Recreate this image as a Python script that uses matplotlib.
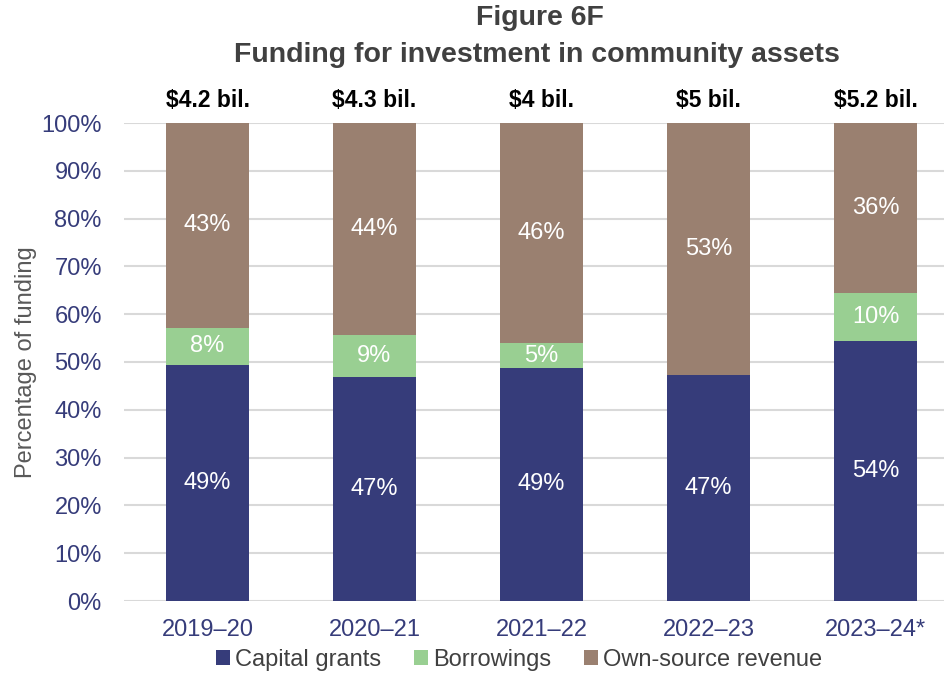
import matplotlib.pyplot as plt
import numpy as np

years = ["2019–20", "2020–21", "2021–22", "2022–23", "2023–24*"]
totals = ["$4.2 bil.", "$4.3 bil.", "$4 bil.", "$5 bil.", "$5.2 bil."]
capital_grants = [49.4, 46.9, 48.8, 47.3, 54.4]
borrowings = [7.8, 8.7, 5.1, 0.0, 10.0]
own_source = [42.8, 44.4, 46.1, 52.7, 35.6]
capital_labels = ["49%", "47%", "49%", "47%", "54%"]
borrow_labels = ["8%", "9%", "5%", "", "10%"]
own_labels = ["43%", "44%", "46%", "53%", "36%"]

plt.rcParams["font.family"] = ["Liberation Sans", "DejaVu Sans"]

navy = "#363C7A"
green = "#99CF92"
brown = "#9A8070"
fs = 17

fig = plt.figure(figsize=(9.44, 6.73), dpi=100)
ax = fig.add_axes([124 / 944, 72 / 673, 820 / 944, 478 / 673])

x = np.arange(len(years))
cap = np.array(capital_grants)
bor = np.array(borrowings)
own = np.array(own_source)
w = 0.5

ax.bar(x, cap, width=w, color=navy, label="Capital grants", zorder=3)
ax.bar(x, bor, width=w, bottom=cap, color=green, label="Borrowings", zorder=3)
ax.bar(x, own, width=w, bottom=cap + bor, color=brown, label="Own-source revenue", zorder=3)

for i in range(len(years)):
    ax.text(x[i], cap[i] / 2, capital_labels[i], ha="center", va="center",
            color="white", fontsize=fs, zorder=4)
    if borrow_labels[i]:
        ax.text(x[i], cap[i] + bor[i] / 2, borrow_labels[i], ha="center", va="center",
                color="white", fontsize=fs, zorder=4)
    ax.text(x[i], cap[i] + bor[i] + own[i] / 2, own_labels[i], ha="center", va="center",
            color="white", fontsize=fs, zorder=4)
    ax.text(x[i], 104.8, totals[i], ha="center", va="center",
            color="black", fontsize=16.5, fontweight="bold")

ax.set_xlim(-0.5, 4.5 - 15 / 167)
ax.set_ylim(0, 100)
ax.set_yticks(range(0, 101, 10))
ax.set_yticklabels([f"{v}%" for v in range(0, 101, 10)])
ax.set_xticks(x)
ax.set_xticklabels(years)
ax.tick_params(axis="both", length=0, labelsize=fs, labelcolor=navy)
ax.tick_params(axis="y", pad=16)
ax.tick_params(axis="x", pad=13)
ax.yaxis.grid(True, color="#D9D9D9", linewidth=1.5, zorder=0)
for s in ax.spines.values():
    s.set_visible(False)
ax.set_ylabel("Percentage of funding", fontsize=fs, color="#595959", labelpad=3)

fig.text(0.572, 0.973, "Figure 6F", ha="center", va="center",
         fontsize=20.5, fontweight="bold", color="#404040")
fig.text(0.569, 0.918, "Funding for investment in community assets", ha="center",
         va="center", fontsize=20.5, fontweight="bold", color="#404040")

handles, labels = ax.get_legend_handles_labels()
fig.legend(handles, labels, loc="center", bbox_to_anchor=(0.55, 0.019), ncol=3,
           frameon=False, fontsize=fs, handlelength=0.6, handleheight=0.6,
           handletextpad=0.2, columnspacing=1.4, labelcolor="#404040",
           borderpad=0)

fig.savefig("out.png", dpi=100)
